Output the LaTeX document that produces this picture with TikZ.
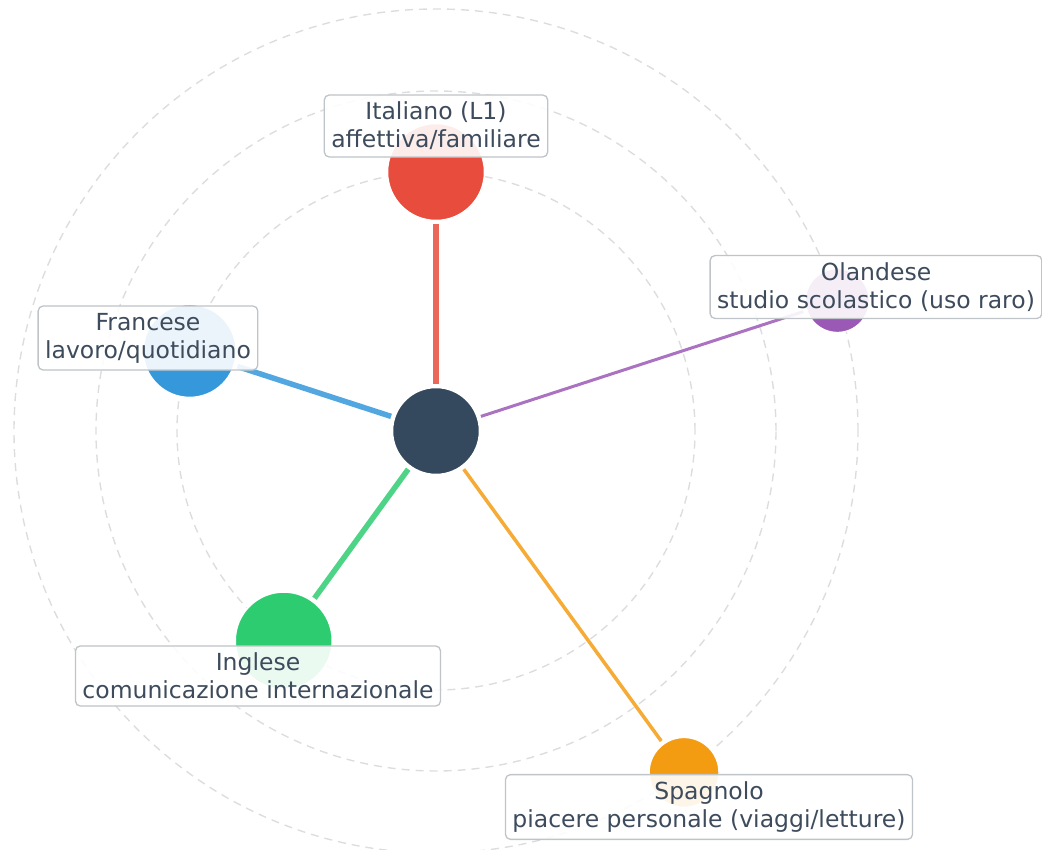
\documentclass[tikz,border=0pt]{standalone}
\usepackage{fontspec}
\setmainfont{DejaVu Sans}
\usepackage{xcolor}
\usepackage{tikz}

\definecolor{hubgrey}{HTML}{34495E}
\definecolor{itared}{HTML}{E74C3C}
\definecolor{frablue}{HTML}{3498DB}
\definecolor{enggreen}{HTML}{2ECC71}
\definecolor{spaorange}{HTML}{F39C12}
\definecolor{nedpurple}{HTML}{9B59B6}
\definecolor{ringgrey}{HTML}{DDDDDD}
\definecolor{boxgrey}{HTML}{BFC4C8}
\definecolor{inkgrey}{HTML}{3D4B5C}

\begin{document}
\begin{tikzpicture}[x=1pt, y=1pt,
    ring/.style={draw=ringgrey, line width=1.4pt, dash pattern=on 8pt off 6pt},
    lang/.style={circle, draw=white, line width=1.5pt, inner sep=0pt},
    link/.style={line width=#1, draw opacity=0.85, shorten <=3pt, shorten >=3pt},
    tag/.style={draw=boxgrey, line width=1.3pt, rounded corners=5pt, fill=white,
        fill opacity=0.9, text opacity=1, text=inkgrey, align=center,
        inner xsep=7pt, inner ysep=7pt, font=\fontsize{23.5}{28}\selectfont}]
    \useasboundingbox (-436,-419) rectangle (606,431);

    % guide rings
    \draw[ring] (0,0) circle (259);
    \draw[ring] (0,0) circle (340);
    \draw[ring] (0,0) circle (422);

    % languages
    \node[lang, fill=hubgrey, minimum size=87pt] (centre) at (0,0) {};
    \node[lang, fill=itared, minimum size=97pt] (ita) at (90:259) {};
    \node[lang, fill=frablue, minimum size=93pt] (fra) at (162:259) {};
    \node[lang, fill=enggreen, minimum size=97pt] (eng) at (234:259) {};
    \node[lang, fill=spaorange, minimum size=70pt] (spa) at (306:422) {};
    \node[lang, fill=nedpurple, minimum size=64pt] (ned) at (18:422) {};

    % links from the centre
    \draw[link=5.5pt, itared] (centre) -- (ita);
    \draw[link=5.5pt, frablue] (centre) -- (fra);
    \draw[link=5.5pt, enggreen] (centre) -- (eng);
    \draw[link=3.5pt, spaorange] (centre) -- (spa);
    \draw[link=3pt, nedpurple] (centre) -- (ned);

    % redraw circles over the links
    \node[lang, fill=hubgrey, minimum size=87pt] at (centre) {};
    \node[lang, fill=itared, minimum size=97pt] at (ita) {};
    \node[lang, fill=frablue, minimum size=93pt] at (fra) {};
    \node[lang, fill=enggreen, minimum size=97pt] at (eng) {};
    \node[lang, fill=spaorange, minimum size=70pt] at (spa) {};
    \node[lang, fill=nedpurple, minimum size=64pt] at (ned) {};

    % labels
    \node[tag] (itatag) at (0,305) {Italiano (L1)\\affettiva/familiare};
    \node[tag] (fratag) at (-288,93) {Francese\\lavoro/quotidiano};
    \node[tag] (engtag) at (-178,-245) {Inglese\\comunicazione internazionale};
    \node[tag] (spatag) at (273,-376) {Spagnolo\\piacere personale (viaggi/letture)};
    \node[tag] (nedtag) at (440,144) {Olandese\\studio scolastico (uso raro)};
\end{tikzpicture}
\end{document}
